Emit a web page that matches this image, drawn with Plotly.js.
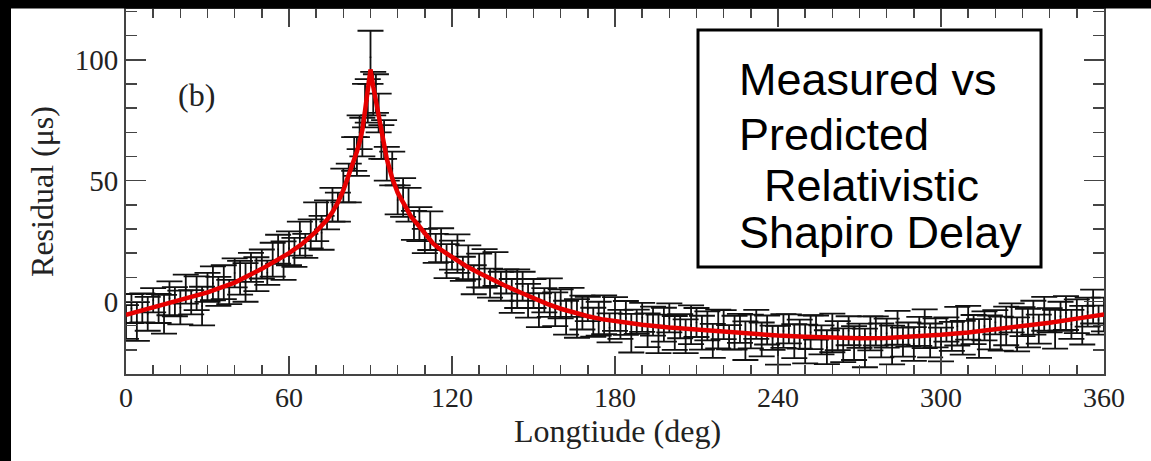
<!DOCTYPE html>
<html>
<head>
<meta charset="utf-8">
<script src="https://cdn.plot.ly/plotly-3.0.1.min.js"></script>
<style>
html,body{margin:0;padding:0;background:#fff;}
#chart{width:1151px;height:461px;}
</style>
</head>
<body>
<div id="chart"></div>
<script>
// Measured residuals (longitude in deg, residual in microseconds)
const lon = [
  0,2,4,6,8,10,12,14,16,18,20,22,24,26,28,30,32,34,36,38,
  40,42,44,46,48,50,52,54,56,58,60,62,64,66,68,70,72,74,76,78,
  80,82,
  84,85,86,87,88,89,90,91,92,93,94,95,96,
  98,100,102,104,106,108,110,112,114,116,118,120,122,124,126,128,130,132,134,136,
  138,140,142,144,146,148,150,152,154,156,158,160,162,164,166,168,170,172,174,176,
  178,180,182,184,186,188,190,192,194,196,198,200,202,204,206,208,210,212,214,216,
  218,220,222,224,226,228,230,232,234,236,238,240,242,244,246,248,250,252,254,256,
  258,260,262,264,266,268,270,272,274,276,278,280,282,284,286,288,290,292,294,296,
  298,300,302,304,306,308,310,312,314,316,318,320,322,324,326,328,330,332,334,336,
  338,340,342,344,346,348,350,352,354,356,358,360
];
const residual = [
  -8.5,-2.9,-8.3,-2.7,-5.1,0.5,-2.9,-5.3,1.3,-0.1,-2.5,5.1,-0.3,3.4,-1.9,5.8,7.5,4.2,8,3.9,
  11.8,9.8,7.9,14.1,11.3,15.5,11.9,17.3,21.6,16.9,22,20.3,26,23,28,33,28.4,35.8,40,39,
  48,49,
  61,60,70,68,81,83,101,86,86,78,66,67,57,
  55,42,43,40,31.5,32,25,29.3,22,23.3,16.7,19.2,19.8,13.5,16.2,9,12.8,13.7,7.6,13.4,
  6.3,8.3,2.3,5.3,6.3,0.3,3.3,-3.6,0.5,1.6,-3.2,-1,-6.7,-0.4,-7,-4.6,-3.1,-8.6,-7.1,-5.5,
  -10.9,-5.2,-9.5,-6.8,-13.1,-8.4,-6.6,-11.9,-8.1,-13.4,-9.6,-6.8,-13,-10.2,-14.4,-9.6,-8.7,-12.9,-10.1,-16.3,
  -11.4,-9.6,-14.8,-12.9,-11.1,-16.2,-12.4,-9.5,-15.7,-11.8,-15,-18.1,-12.2,-11.3,-16.4,-13.5,-17.6,-12.7,-10.8,-15.9,
  -18.9,-13,-14.1,-18.1,-12.1,-17.2,-14.2,-19.2,-13.2,-12.2,-16.1,-13.1,-18,-10.9,-16.8,-13.7,-17.6,-12.4,-11.3,-16.1,
  -13,-17.8,-11.6,-14.4,-10.2,-15,-8.8,-11.6,-15.3,-10.1,-12.8,-8.6,-13.3,-10.1,-6.8,-13.6,-8.3,-11,-6.7,-11.4,
  -5.1,-7.8,-11.5,-6.1,-4.8,-9.5,-6.1,-9.8,-4.4,-2.1,-7.7,-5.4
];
const residualError = [
  7,6,8,6,7,5,6,8,7,6,7,6,5,7,8,6,7,6,7,5,
  6,7,8,6,7,6,5,7,6,8,7,6,7,5,6,8,7,6,7,6,
  7,8,
  7,8,7,8,9,9,11,9,8,8,7,8,7,
  7,6,8,7,6,7,5,8,6,7,
  7,6,8,5,7,6,7,8,6,7,
  6,5,7,8,6,7,6,7,5,8,
  7,6,7,6,8,7,5,6,7,8,
  6,7,6,7,8,5,6,7,6,8,
  7,6,7,5,7,8,6,7,6,7,
  8,6,5,7,6,8,7,6,7,6,
  5,8,7,6,7,6,8,7,5,6,
  7,8,6,7,6,7,5,8,7,6,
  7,6,8,7,6,5,7,6,8,7,
  6,7,5,6,8,7,7,6,8,6,
  7,5,7,8,6,7,6,8,7,6,
  7,5,8,6,7,6,7,8,6,7,
  6,7
];

// Predicted relativistic Shapiro delay curve
const fitLon = [0,10,20,30,40,50,60,65,70,74,76,78,80,82,84,85,86,87,88,89,90,91,92,93,94,95,96,98,100,102,105,108,110,113,116,120,125,130,135,140,145,150,155,160,165,170,175,180,190,200,210,220,230,240,250,260,270,280,290,300,310,320,330,340,350,360];
const fitRes = [-5.5,-2.5,0.5,3.8,7.8,13.5,20,24,29,33.8,37,41,46,52,58,62,66,71,79,87,96,89,83,76,70,64,59,51,45,41,35,31,28,24,21.3,18.2,14.8,11.8,8.9,6.3,3.8,1.3,-1,-3,-4.7,-6.1,-7.3,-8.2,-9.6,-10.8,-11.7,-12.6,-13.4,-14.1,-14.6,-15,-15.2,-15.1,-14.6,-13.8,-12.8,-11.6,-10.3,-8.8,-7.1,-5.4];

const xTickVals = [0,60,120,180,240,300,360];
const yTickVals = [0,50,100];
const xTitle = 'Longtiude (deg)';
const yTitle = 'Residual (μs)';
const panelLabel = '(b)';
const boxLines = ['Measured vs', 'Predicted', 'Relativistic', 'Shapiro Delay'];

const serif = 'Liberation Serif, Times New Roman, serif';
const sans = 'Liberation Sans, Arial, sans-serif';
const axisColor = '#444';

const traces = [
  {
    x: lon, y: residual, type: 'scatter', mode: 'markers',
    marker: {size: 2, color: 'rgba(0,0,0,0.6)'},
    error_y: {type: 'data', array: residualError, visible: true, color: '#111', thickness: 1.8, width: 13},
    hoverinfo: 'x+y', showlegend: false
  },
  {
    x: fitLon, y: fitRes, type: 'scatter', mode: 'lines',
    line: {color: '#e60000', width: 4.5},
    hoverinfo: 'x+y', showlegend: false
  }
];

const L = 126, R = 47, T = 9, B = 87, W = 1151, H = 461;
const pw = W - L - R, ph = H - T - B;
const px = v => (v - L) / pw;
const py = v => (H - B - v) / ph;

// per-line positions of the boxed caption (pixel left edge / centre)
const boxLineX = [737, 737, 762, 737];
const boxLineY = [80, 134, 185, 233];

const annotations = boxLines.map((t, i) => ({
  text: t, xref: 'paper', yref: 'paper', x: px(boxLineX[i]), y: py(boxLineY[i]),
  xanchor: 'left', yanchor: 'middle', showarrow: false,
  font: {family: sans, size: 45, color: '#000'}
}));
annotations.push(
  {text: panelLabel, xref: 'paper', yref: 'paper', x: px(196), y: py(95), xanchor: 'center', yanchor: 'middle',
   showarrow: false, font: {family: serif, size: 32, color: '#222'}},
  {text: xTitle, xref: 'paper', yref: 'paper', x: px(617), y: py(431), xanchor: 'center', yanchor: 'middle',
   showarrow: false, font: {family: serif, size: 32, color: '#222'}}
);

const layout = {
  width: W, height: H,
  margin: {l: L, r: R, t: T, b: B},
  paper_bgcolor: '#fff', plot_bgcolor: '#fff',
  showlegend: false,
  xaxis: {
    range: [0, 360], tickvals: xTickVals, ticks: 'inside', ticklen: 18, tickwidth: 1.5, tickcolor: axisColor,
    minor: {dtick: 10, ticks: 'inside', ticklen: 9, tickwidth: 1.5, tickcolor: axisColor, showgrid: false},
    showline: true, linecolor: axisColor, linewidth: 2, mirror: 'allticks',
    showgrid: false, zeroline: false,
    tickfont: {family: serif, size: 28, color: '#222'},
    ticklabelstandoff: -3,
    automargin: false
  },
  yaxis: {
    range: [-30, 121], tickvals: yTickVals, ticks: 'inside', ticklen: 20, tickwidth: 1.5, tickcolor: axisColor,
    minor: {dtick: 10, ticks: 'inside', ticklen: 11, tickwidth: 1.5, tickcolor: axisColor, showgrid: false},
    showline: true, linecolor: axisColor, linewidth: 2, mirror: 'allticks',
    showgrid: false, zeroline: false,
    tickfont: {family: serif, size: 29, color: '#222'},
    title: {text: yTitle, font: {family: serif, size: 32, color: '#222'}, standoff: 12},
    automargin: false
  },
  shapes: [
    {type: 'rect', xref: 'paper', yref: 'paper', x0: px(698), x1: px(1041), y0: py(30), y1: py(267),
     line: {color: '#000', width: 3}, fillcolor: '#fff', layer: 'above'},
    {type: 'rect', xref: 'paper', yref: 'paper', x0: px(0), x1: px(W), y0: py(8.5), y1: py(0),
     line: {width: 0}, fillcolor: '#000', layer: 'above'},
    {type: 'rect', xref: 'paper', yref: 'paper', x0: px(0), x1: px(11), y0: py(H), y1: py(0),
     line: {width: 0}, fillcolor: '#000', layer: 'above'}
  ],
  annotations: annotations
};

Plotly.newPlot('chart', traces, layout, {displayModeBar: false, staticPlot: true});
</script>
</body>
</html>
